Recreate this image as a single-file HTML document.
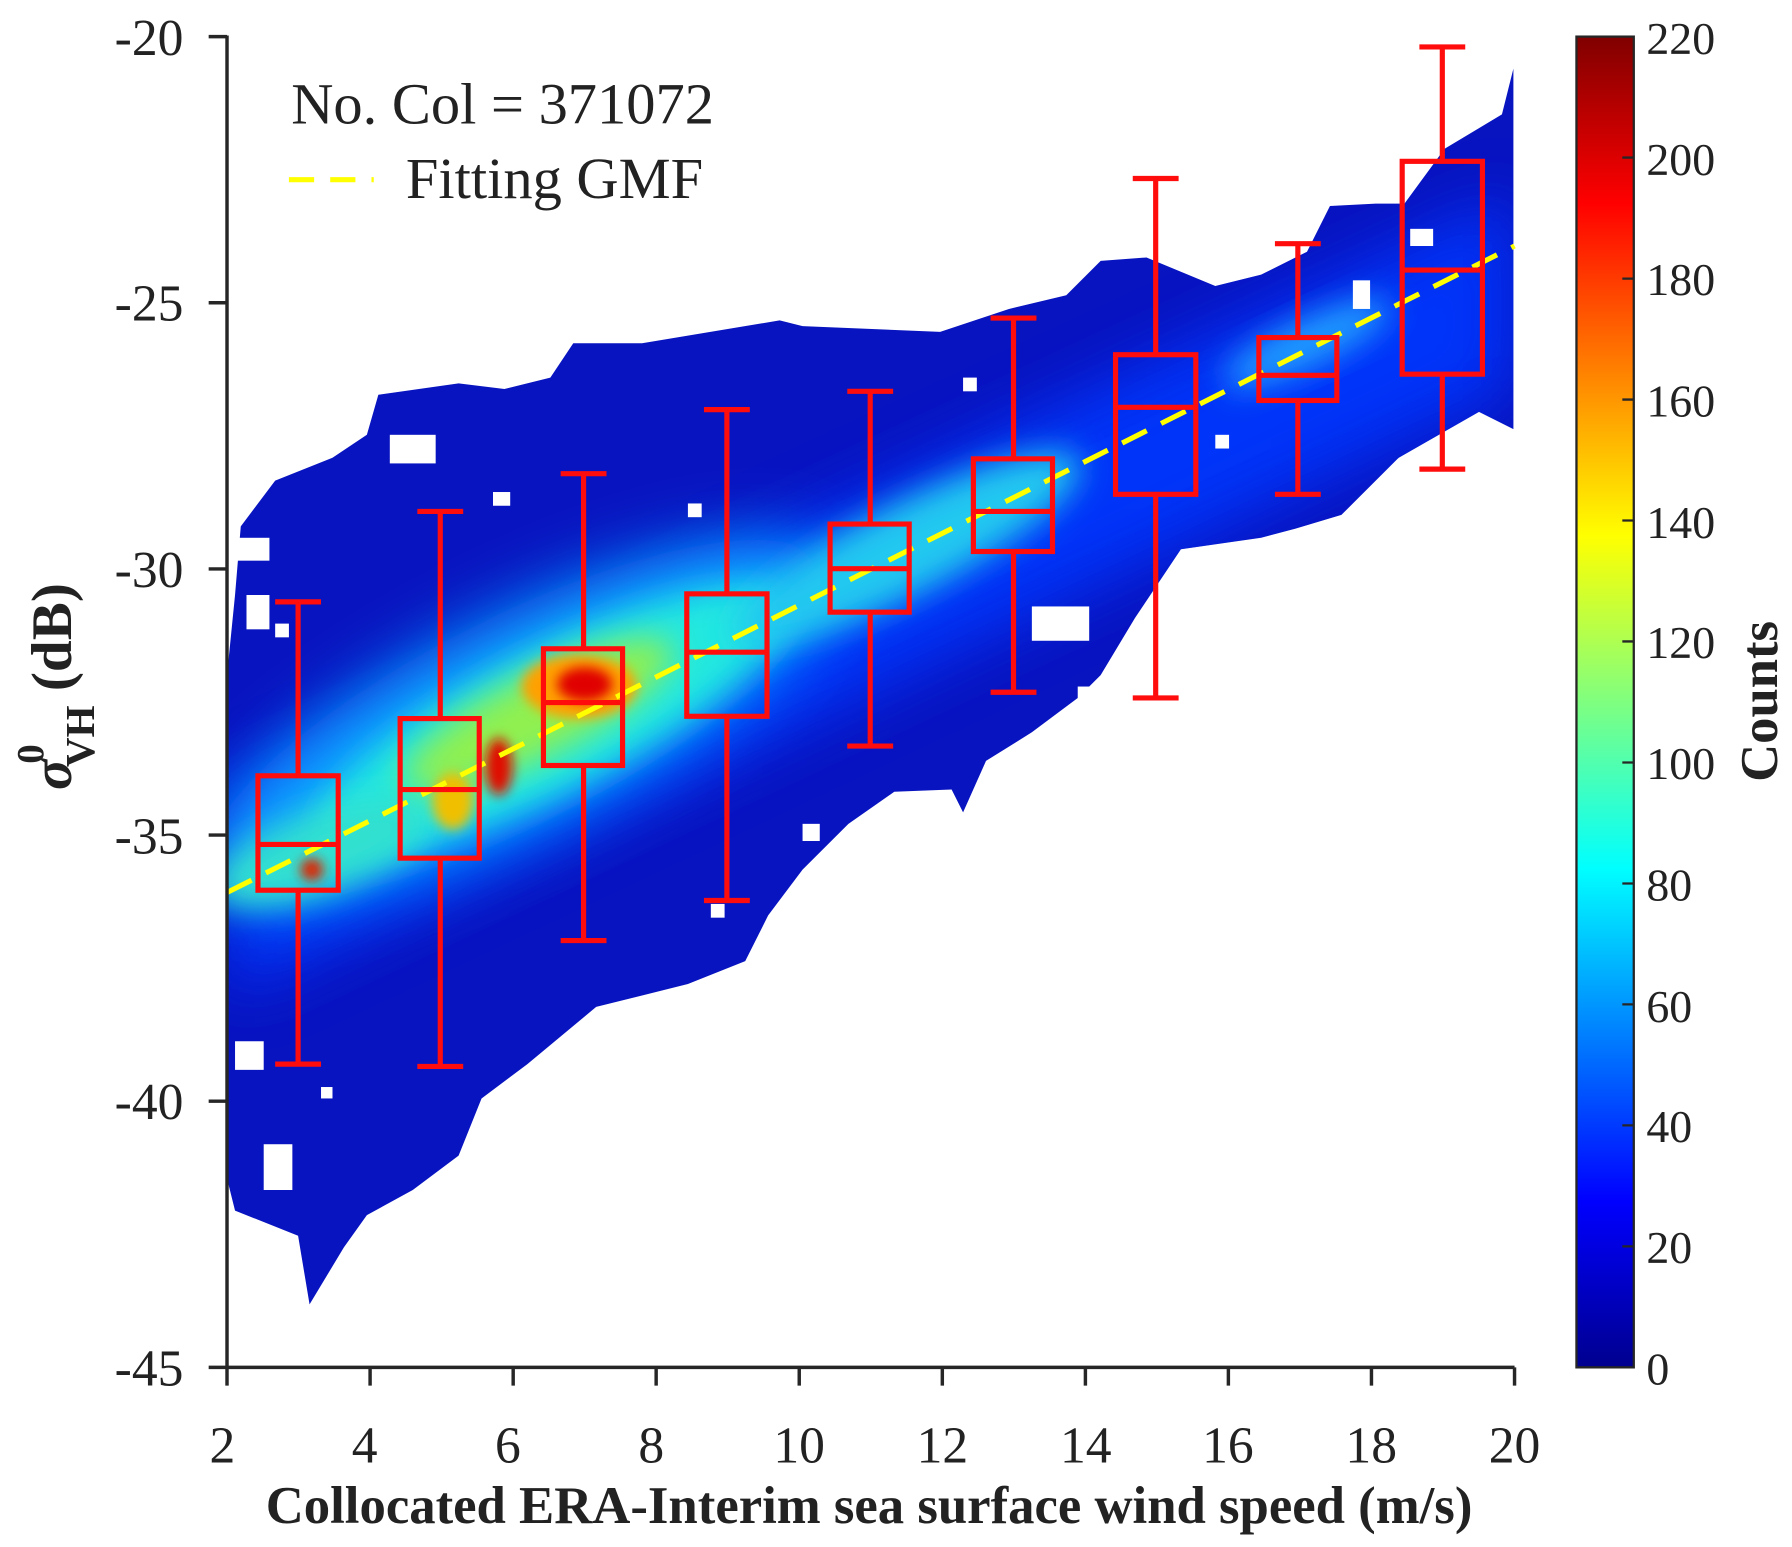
<!DOCTYPE html>
<html><head><meta charset="utf-8"><style>
html,body{margin:0;padding:0;background:#fff;}
svg{display:block;}
text{font-family:"Liberation Serif",serif;fill:#222;}
</style></head><body>
<svg width="1792" height="1547" viewBox="0 0 1563 1352" preserveAspectRatio="none" xmlns="http://www.w3.org/2000/svg">
<defs>
<linearGradient id="jet" x1="0" y1="1" x2="0" y2="0">
<stop offset="0" stop-color="#00008f"/>
<stop offset="0.125" stop-color="#0000ff"/>
<stop offset="0.375" stop-color="#00ffff"/>
<stop offset="0.625" stop-color="#ffff00"/>
<stop offset="0.875" stop-color="#ff0000"/>
<stop offset="1" stop-color="#800000"/>
</linearGradient>
<filter id="b1" x="-50%" y="-50%" width="200%" height="200%"><feGaussianBlur stdDeviation="28"/></filter>
<filter id="b2" x="-50%" y="-50%" width="200%" height="200%"><feGaussianBlur stdDeviation="14"/></filter>
<filter id="b3" x="-50%" y="-50%" width="200%" height="200%"><feGaussianBlur stdDeviation="5"/></filter>
<clipPath id="cl"><path id="cloud" d="M198,590 L205,520 L210,460 L240,420 L290,400 L320,380 L330,345 L400,335 L440,340 L480,330 L500,300 L560,300 L680,280 L700,285 L820,290 L880,270 L930,258 L960,228 L1000,225 L1060,250 L1100,240 L1140,220 L1160,180 L1200,178 L1225,178 L1260,130 L1310,100 L1320,60 L1320,375 L1290,360 L1220,400 L1170,450 L1130,462 L1100,470 L1030,480 L990,540 L960,590 L940,610 L900,640 L860,665 L840,710 L830,690 L780,692 L740,720 L700,760 L670,800 L650,840 L600,860 L560,870 L520,880 L460,930 L420,960 L400,1010 L360,1040 L320,1062 L300,1090 L270,1140 L260,1080 L205,1058 L198,1030 Z"/></clipPath>
</defs>
<!-- heatmap -->
<use href="#cloud" fill="#0814c0"/>
<g clip-path="url(#cl)">
<path d="M198,690 L1320,170 L1320,340 L198,870 Z" fill="#0038ff" filter="url(#b1)" opacity="0.9"/>
<ellipse cx="450" cy="630" rx="300" ry="90" transform="rotate(-27 450 630)" fill="#10a0ff" filter="url(#b1)"/>
<ellipse cx="480" cy="630" rx="230" ry="60" transform="rotate(-27 480 630)" fill="#20e8e0" filter="url(#b2)"/>
<ellipse cx="790" cy="480" rx="170" ry="40" transform="rotate(-27 790 480)" fill="#20c8f0" filter="url(#b2)"/>
<ellipse cx="280" cy="745" rx="100" ry="35" transform="rotate(-20 280 745)" fill="#30e0d0" filter="url(#b2)"/>
<ellipse cx="470" cy="625" rx="130" ry="35" transform="rotate(-27 470 625)" fill="#90f050" filter="url(#b2)"/>
<ellipse cx="505" cy="600" rx="50" ry="28" fill="#ffa000" filter="url(#b3)"/>
<ellipse cx="510" cy="598" rx="24" ry="15" fill="#e00000" filter="url(#b3)"/>
<ellipse cx="435" cy="670" rx="12" ry="25" fill="#e01000" filter="url(#b3)"/>
<ellipse cx="395" cy="700" rx="18" ry="25" fill="#f0c000" filter="url(#b3)"/>
<ellipse cx="272" cy="760" rx="10" ry="10" fill="#e02000" filter="url(#b3)"/>
<ellipse cx="1140" cy="300" rx="80" ry="20" transform="rotate(-25 1140 300)" fill="#20a0ff" filter="url(#b2)"/>
</g>
<g fill="#fff">
<rect x="205" y="470" width="30" height="20"/><rect x="215" y="520" width="20" height="30"/><rect x="240" y="545" width="12" height="12"/>
<rect x="205" y="910" width="25" height="25"/><rect x="230" y="1000" width="25" height="40"/><rect x="280" y="950" width="10" height="10"/>
<rect x="340" y="380" width="40" height="25"/><rect x="430" y="430" width="15" height="12"/><rect x="600" y="440" width="12" height="12"/>
<rect x="840" y="330" width="12" height="12"/><rect x="900" y="530" width="50" height="30"/><rect x="940" y="600" width="15" height="20"/>
<rect x="1180" y="245" width="15" height="25"/><rect x="1230" y="200" width="20" height="15"/><rect x="1060" y="380" width="12" height="12"/>
<rect x="700" y="720" width="15" height="15"/><rect x="620" y="790" width="12" height="12"/>
</g>
<!-- fit line -->
<line x1="198" y1="780" x2="1321" y2="215" stroke="#ffff00" stroke-width="4.5" stroke-dasharray="24,14"/>
<!-- boxes -->
<g stroke="#ff0d0d" stroke-width="4.5" fill="none">
<path d="M260,526V678M260,778V930M240,526H280M240,930H280"/><rect x="225" y="678" width="70" height="100"/><path d="M225,738H295"/>
<path d="M384,447V628M384,750V932M364,447H404M364,932H404"/><rect x="349" y="628" width="69" height="122"/><path d="M349,690H418"/>
<path d="M509,414V567M509,669V822M489,414H529M489,822H529"/><rect x="474" y="567" width="69" height="102"/><path d="M474,614H543"/>
<path d="M634,358V519M634,626V787M614,358H654M614,787H654"/><rect x="599" y="519" width="70" height="107"/><path d="M599,570H669"/>
<path d="M759,342V458M759,535V652M739,342H779M739,652H779"/><rect x="724" y="458" width="69" height="77"/><path d="M724,497H793"/>
<path d="M884,278V401M884,482V605M864,278H904M864,605H904"/><rect x="849" y="401" width="69" height="81"/><path d="M849,447H918"/>
<path d="M1008,156V310M1008,432V610M988,156H1028M988,610H1028"/><rect x="973" y="310" width="70" height="122"/><path d="M973,356H1043"/>
<path d="M1132,213V295M1132,350V432M1112,213H1152M1112,432H1152"/><rect x="1098" y="295" width="68" height="55"/><path d="M1098,328H1166"/>
<path d="M1258,41V141M1258,327V410M1238,41H1278M1238,410H1278"/><rect x="1223" y="141" width="70" height="186"/><path d="M1223,236H1293"/>
</g>
<!-- axes -->
<g stroke="#262626" stroke-width="3" fill="none">
<path d="M198,31V1195H1321"/>
<path d="M182,32H198M182,264.6H198M182,497.2H198M182,729.8H198M182,962.4H198M182,1195H198"/>
<path d="M198,1195V1211M322.8,1195V1211M447.6,1195V1211M572.3,1195V1211M697.1,1195V1211M821.9,1195V1211M946.7,1195V1211M1071.4,1195V1211M1196.2,1195V1211M1321,1195V1211"/>
</g>
<g font-size="45" text-anchor="end">
<text x="160" y="48">-20</text><text x="160" y="280">-25</text><text x="160" y="513">-30</text>
<text x="160" y="746">-35</text><text x="160" y="978">-40</text><text x="160" y="1211">-45</text>
</g>
<g font-size="45" text-anchor="middle">
<text x="194" y="1278">2</text><text x="318" y="1278">4</text><text x="443" y="1278">6</text><text x="568" y="1278">8</text>
<text x="697" y="1278">10</text><text x="822" y="1278">12</text><text x="947" y="1278">14</text><text x="1071" y="1278">16</text>
<text x="1196" y="1278">18</text><text x="1321" y="1278">20</text>
</g>
<text x="758" y="1331" font-size="46" font-weight="bold" text-anchor="middle">Collocated ERA-Interim sea surface wind speed (m/s)</text>
<g transform="translate(62,600) rotate(-90)">
<text x="0" y="0" font-size="50" font-weight="bold" text-anchor="middle"><tspan font-style="italic">σ</tspan><tspan font-size="34" dy="-24" dx="-4">0</tspan><tspan font-size="36" dy="44" dx="-20">VH</tspan><tspan dy="-20"> (dB)</tspan></text>
</g>
<!-- legend -->
<text x="254" y="108" font-size="51">No. Col = 371072</text>
<line x1="252" y1="157" x2="326" y2="157" stroke="#ffff00" stroke-width="4.5" stroke-dasharray="22,14"/>
<text x="354" y="173" font-size="51">Fitting GMF</text>
<!-- colorbar -->
<rect x="1375" y="32" width="50" height="1163" fill="url(#jet)"/>
<rect x="1375" y="32" width="50" height="1163" fill="none" stroke="#262626" stroke-width="2"/>
<g stroke="#262626" stroke-width="2">
<path d="M1415,137.7H1425M1415,243.5H1425M1415,349.2H1425M1415,454.9H1425M1415,560.6H1425M1415,666.4H1425M1415,772.1H1425M1415,877.8H1425M1415,983.5H1425M1415,1089.3H1425"/>
</g>
<g font-size="40">
<text x="1436" y="47">220</text><text x="1436" y="153">200</text><text x="1436" y="258">180</text><text x="1436" y="364">160</text>
<text x="1436" y="470">140</text><text x="1436" y="575">120</text><text x="1436" y="681">100</text><text x="1436" y="787">80</text>
<text x="1436" y="893">60</text><text x="1436" y="998">40</text><text x="1436" y="1104">20</text><text x="1436" y="1210">0</text>
</g>
<text transform="translate(1550,613) rotate(-90)" font-size="46" font-weight="bold" text-anchor="middle">Counts</text>
</svg>
</body></html>
